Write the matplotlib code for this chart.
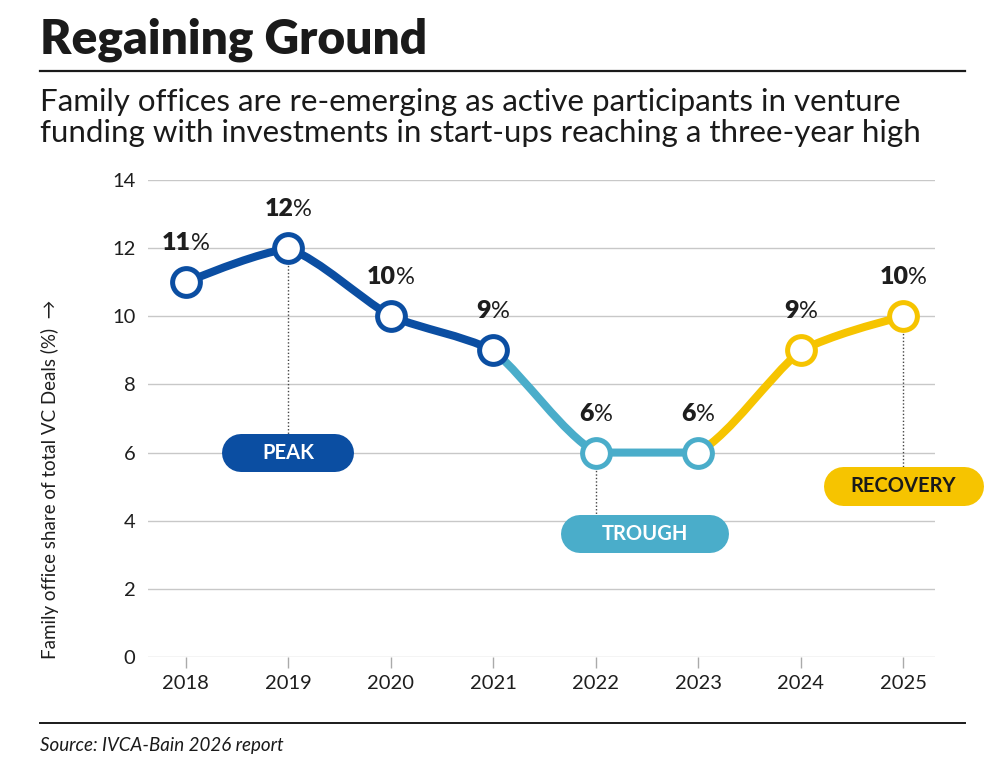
import matplotlib
matplotlib.use('Agg')
import matplotlib.pyplot as plt
import numpy as np
from matplotlib.path import Path
from matplotlib.patches import PathPatch
from matplotlib.lines import Line2D
from matplotlib.offsetbox import TextArea, HPacker, AnnotationBbox
from matplotlib.transforms import ScaledTranslation

plt.rcParams['font.family'] = ['Lato', 'DejaVu Sans']

# data
years = [2018, 2019, 2020, 2021, 2022, 2023, 2024, 2025]
share = [11, 12, 10, 9, 6, 6, 9, 10]
point_phase = [0, 0, 0, 0, 1, 1, 2, 2]
segment_phase = [0, 0, 0, 1, 1, 2, 2]
phase_names = ['PEAK', 'TROUGH', 'RECOVERY']
phase_point = [1, 4, 7]  # which point each callout hangs from

# styles
phase_colors = ['#0b4ea2', '#4aadca', '#f6c400']
phase_text_colors = ['white', 'white', '#1a1a1a']
callout_xy = [(2019, 6.0), (2022.48, 3.62), (2025, 5.02)]
callout_px = [(132, 38), (168, 38), (160, 39)]
grid_col = '#c8c8c8'
text_col = '#1e1e1e'
smooth = 0.4  # 1 = full monotone spline, 0 = straight segments


def monotone_slopes(x, y):
    # same as d3 curveMonotoneX
    x = np.asarray(x, float)
    y = np.asarray(y, float)
    n = len(x)
    m = np.zeros(n)
    for i in range(1, n - 1):
        h0, h1 = x[i] - x[i - 1], x[i + 1] - x[i]
        s0, s1 = (y[i] - y[i - 1]) / h0, (y[i + 1] - y[i]) / h1
        p = (s0 * h1 + s1 * h0) / (h0 + h1)
        m[i] = (np.sign(s0) + np.sign(s1)) * min(abs(s0), abs(s1), 0.5 * abs(p))
    m[0] = (3 * (y[1] - y[0]) / (x[1] - x[0]) - m[1]) / 2
    m[-1] = (3 * (y[-1] - y[-2]) / (x[-1] - x[-2]) - m[-2]) / 2
    return m


fig = plt.figure(figsize=(10, 7.68), dpi=100)
ax = fig.add_axes([0.148, 1 - 657 / 768, 0.787, (657 - 180) / 768])

ax.set_xlim(2017.63, 2025.31)
ax.set_ylim(0, 14)
ax.set_yticks(range(0, 15, 2))
ax.set_xticks(years)
ax.grid(axis='y', color=grid_col, lw=1)
ax.set_axisbelow(True)
for s in ax.spines.values():
    s.set_visible(False)
ax.tick_params(axis='y', length=0, pad=9, labelsize=14.5, labelcolor=text_col)
ax.tick_params(axis='x', length=8, width=1, color='#aaaaaa', pad=5,
               labelsize=14.5, labelcolor=text_col)

# lightly smoothed line, one bezier piece per year
m = monotone_slopes(years, share)
for i, ph in enumerate(segment_phase):
    x0, x1 = years[i], years[i + 1]
    y0, y1 = share[i], share[i + 1]
    sec = (y1 - y0) / (x1 - x0)
    m0 = smooth * m[i] + (1 - smooth) * sec
    m1 = smooth * m[i + 1] + (1 - smooth) * sec
    h = (x1 - x0) / 3
    verts = [(x0, y0), (x0 + h, y0 + m0 * h), (x1 - h, y1 - m1 * h), (x1, y1)]
    path = Path(verts, [Path.MOVETO, Path.CURVE4, Path.CURVE4, Path.CURVE4])
    ax.add_patch(PathPatch(path, fill=False, ec=phase_colors[ph], lw=5.8,
                           capstyle='round', zorder=3))

# callouts (pill = thick line with round caps, sized in inches)
for k, name in enumerate(phase_names):
    i = phase_point[k]
    cx, cy = callout_xy[k]
    ax.plot([years[i], years[i]], [share[i], cy], ls=(0, (1, 1.5)), lw=1,
            color='#444444', zorder=2)
    w, h = callout_px[k][0] / 100, callout_px[k][1] / 100
    tr = fig.dpi_scale_trans + ScaledTranslation(cx, cy, ax.transData)
    ax.add_line(Line2D([-(w - h) / 2, (w - h) / 2], [0, 0], transform=tr,
                       lw=h * 72, color=phase_colors[k], solid_capstyle='round',
                       clip_on=False, zorder=4))
    ax.text(cx, cy, name, ha='center', va='center', fontsize=14.5, fontweight='bold',
            color=phase_text_colors[k], zorder=5, clip_on=False)

# markers
for i, (x, y) in enumerate(zip(years, share)):
    ax.plot(x, y, 'o', ms=20, mfc='white', mec=phase_colors[point_phase[i]],
            mew=3.6, zorder=6)
    lab = HPacker(children=[
        TextArea(f'{y}', textprops=dict(fontsize=18, fontweight='heavy', color=text_col)),
        TextArea('%', textprops=dict(fontsize=17, color=text_col))],
        pad=0, sep=0, align='baseline')
    ax.add_artist(AnnotationBbox(lab, (x, y), xybox=(0, 28), xycoords='data',
                                 boxcoords='offset points', frameon=False,
                                 box_alignment=(0.5, 0.5), zorder=7))

# titles and rules
fig.text(0.04, 1 - 53 / 768, 'Regaining Ground', fontsize=34.5, fontweight='heavy',
         color='#1a1a1a', va='baseline')
fig.add_artist(Line2D([0.04, 0.965], [1 - 71 / 768] * 2, color='#1a1a1a', lw=1.6))
fig.text(0.04, 1 - 111 / 768,
         'Family offices are re-emerging as active participants in venture',
         fontsize=22.5, color='#1a1a1a', va='baseline')
fig.text(0.04, 1 - 142 / 768,
         'funding with investments in start-ups reaching a three-year high',
         fontsize=22.5, color='#1a1a1a', va='baseline')
fig.text(0.05, 1 - 479 / 768, 'Family office share of total VC Deals (%)  \u2192',
         rotation=90, ha='center', va='center', fontsize=13.5, color=text_col)
fig.add_artist(Line2D([0.04, 0.965], [1 - 723 / 768] * 2, color='#1a1a1a', lw=1.4))
fig.text(0.04, 1 - 751 / 768, 'Source: IVCA-Bain 2026 report', fontsize=13.5,
         style='italic', color='#1a1a1a', va='baseline')

fig.savefig('out.png', dpi=100)
